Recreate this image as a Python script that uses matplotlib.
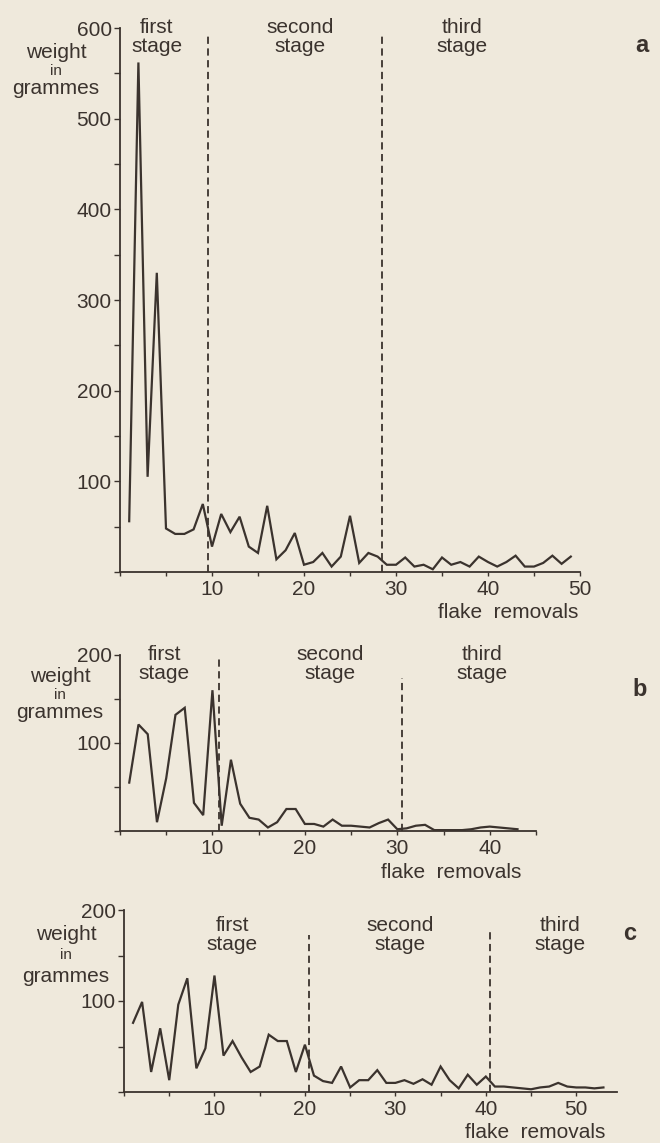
import numpy as np
import matplotlib.pyplot as plt
from matplotlib.ticker import MultipleLocator

## data (weight in grammes per flake removal)
weight_a = [56, 562, 105, 330, 48, 42, 42, 47, 75, 28, 64, 44, 61, 28, 21, 73, 14, 24, 43, 8,
            11, 21, 6, 17, 62, 10, 21, 17, 8, 8, 16, 6, 8, 3, 16, 8, 11, 6, 17, 11,
            6, 11, 18, 6, 6, 10, 18, 9, 17]
weight_b = [55, 121, 110, 10, 60, 132, 140, 32, 18, 160, 6, 81, 31, 15, 13, 4, 10, 25, 25, 8,
            8, 5, 13, 6, 6, 5, 4, 9, 13, 2, 3, 6, 7, 1, 1, 1, 1, 2, 4, 5,
            4, 3, 2]
weight_c = [76, 99, 22, 70, 13, 96, 125, 26, 48, 128, 40, 56, 38, 22, 28, 63, 56, 56, 22, 52,
            18, 12, 10, 28, 5, 13, 13, 24, 10, 10, 13, 9, 14, 8, 28, 13, 4, 19, 8, 17,
            6, 6, 5, 4, 3, 5, 6, 10, 6, 5, 5, 4, 5]
flakes_a = np.arange(1, len(weight_a) + 1)
flakes_b = np.arange(1, len(weight_b) + 1)
flakes_c = np.arange(1, len(weight_c) + 1)

## stage boundaries (in flake removals)
bounds_a = [9.6, 28.5]
bounds_b = [10.7, 30.5]
bounds_c = [20.5, 40.5]

stage_names = ["first\nstage", "second\nstage", "third\nstage"]
xticks_a = [10, 20, 30, 40, 50]
xticks_b = [10, 20, 30, 40]
xticks_c = [10, 20, 30, 40, 50]

W, H = 660, 1143
bg = "#efe9dc"
ink = "#3b332e"
plt.rcParams['font.family'] = ['Liberation Sans', 'DejaVu Sans']
plt.rcParams['text.color'] = ink

fig = plt.figure(figsize=(W / 100, H / 100), dpi=100, facecolor=bg)


def fx(x):
    return x / W


def fy(y):
    return 1 - y / H


def panel(left, right, top, bottom, xmax, ymax, xs, ys, bounds, bound_tops, xticks, ymaj):
    ax = fig.add_axes([fx(left), fy(bottom), fx(right - left), fy(top) - fy(bottom)])
    ax.patch.set_alpha(0)
    ax.plot(xs, ys, color=ink, lw=1.6, solid_joinstyle='miter')
    for b, t in zip(bounds, bound_tops):
        ax.axvline(b, ymin=0, ymax=t, color=ink, lw=1.3, linestyle=(0, (4, 2.5)))
    ax.set_xlim(0, xmax)
    ax.set_ylim(0, ymax)
    for s in ['top', 'right']:
        ax.spines[s].set_visible(False)
    for s in ['left', 'bottom']:
        ax.spines[s].set_linewidth(1.3)
        ax.spines[s].set_color(ink)
    ax.set_xticks(xticks)
    ax.xaxis.set_minor_locator(MultipleLocator(5))
    ax.yaxis.set_minor_locator(MultipleLocator(50))
    ax.tick_params(axis='x', which='both', direction='out', length=3, width=1, colors=ink,
                   labelsize=15, pad=3)
    ax.tick_params(axis='y', which='both', direction='out', length=4, width=1, colors=ink,
                   labelsize=15, pad=2)
    yt = np.arange(0, ymax + 1, ymaj)
    ax.set_yticks(yt)
    ax.set_yticklabels(["" if v == 0 else str(int(v)) for v in yt])
    return ax


def ylabel(cx, y1, y2, y3):
    fig.text(fx(cx), fy(y1), "weight", ha='center', va='center', fontsize=15)
    fig.text(fx(cx), fy(y2), "in", ha='center', va='center', fontsize=11)
    fig.text(fx(cx), fy(y3), "grammes", ha='center', va='center', fontsize=15)


def stages(xs, ys):
    for name, x, y in zip(stage_names, xs, ys):
        fig.text(fx(x), fy(y), name, ha='center', va='center', fontsize=15, linespacing=0.95)


##### panel a
panel(120, 580, 28, 572, 50, 600, flakes_a, weight_a, bounds_a, [0.99, 0.99], xticks_a, 100)
ylabel(56, 52, 71, 88)
stages([157, 300, 462], [37, 37, 37])
fig.text(fx(642), fy(46), "a", ha='center', va='center', fontsize=17, fontweight='bold')
fig.text(fx(508), fy(613), "flake  removals", ha='center', va='center', fontsize=15)

##### panel b
panel(120, 536, 655, 831, 45, 200, flakes_b, weight_b, bounds_b, [1.0, 0.87], xticks_b, 100)
ylabel(60, 677, 695, 712)
stages([164, 330, 482], [664, 664, 664])
fig.text(fx(640), fy(690), "b", ha='center', va='center', fontsize=17, fontweight='bold')
fig.text(fx(451), fy(873), "flake  removals", ha='center', va='center', fontsize=15)

##### panel c
panel(124, 617, 910, 1092, 54.5, 200, flakes_c, weight_c, bounds_c, [0.86, 0.88], xticks_c, 100)
ylabel(66, 935, 955, 977)
stages([232, 400, 560], [935, 935, 935])
fig.text(fx(630), fy(934), "c", ha='center', va='center', fontsize=17, fontweight='bold')
fig.text(fx(535), fy(1132), "flake  removals", ha='center', va='center', fontsize=15)

fig.savefig("out.png", dpi=100, facecolor=bg)
